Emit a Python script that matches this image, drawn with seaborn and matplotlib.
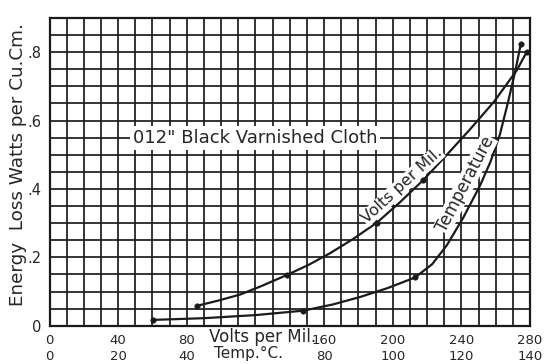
import matplotlib
matplotlib.use("Agg")
import matplotlib.pyplot as plt
import seaborn as sns
import pandas as pd
import numpy as np
from matplotlib.transforms import blended_transform_factory

# ---- data ----
# curve traces (x in "volts per mil" scale units; temperature scale = x/2)
volts_x = [85.8, 98.0, 111.0, 124.0, 138.2, 151.0, 163.5, 177.0, 190.7, 204.0,
           217.8, 231.0, 245.0, 259.0, 272.3, 278.1]
volts_y = [0.058, 0.073, 0.091, 0.117, 0.148, 0.178, 0.212, 0.254, 0.301, 0.360,
           0.426, 0.497, 0.574, 0.655, 0.747, 0.801]
temp_x = [60.5, 90.0, 120.0, 147.9, 165.0, 181.0, 197.0, 213.0, 223.0, 231.5,
          241.0, 250.9, 257.0, 262.5, 267.0, 271.3, 274.6]
temp_y = [0.017, 0.022, 0.031, 0.044, 0.062, 0.084, 0.110, 0.141, 0.180, 0.235,
          0.315, 0.410, 0.480, 0.560, 0.650, 0.742, 0.823]
# measured points (dots)
volts_pts_x = [85.8, 138.2, 190.7, 217.8, 278.1]
volts_pts_y = [0.058, 0.148, 0.301, 0.426, 0.801]
temp_pts_x = [60.5, 147.9, 213.0, 274.6]
temp_pts_y = [0.017, 0.044, 0.141, 0.823]

x_ticks = [0, 40, 80, 120, 160, 200, 240, 280]
volt_labels = ["0", "40", "80", "", "160", "200", "240", "280"]
temp_labels = ["0", "20", "40", "", "80", "100", "120", "140"]
y_ticks = [0, 0.2, 0.4, 0.6, 0.8]
y_labels = ["0", ".2", ".4", ".6", ".8"]

title_text = '012" Black Varnished Cloth'
ylabel_text = "Energy  Loss Watts per Cu.Cm."
xlabel_volts = "Volts per Mil."
xlabel_temp = "Temp.°C."

# ---- figure ----
sns.set_style("white")
plt.rcParams["font.family"] = ["DejaVu Sans"]
ink = "#1b1b1b"

fig = plt.figure(figsize=(5.48, 3.64), dpi=100)
ax = fig.add_axes([49.5 / 548, 1 - 325.7 / 364, (530 - 49.5) / 548, (325.7 - 18) / 364])

df_v = pd.DataFrame({"x": volts_x, "y": volts_y})
df_t = pd.DataFrame({"x": temp_x, "y": temp_y})
sns.lineplot(data=df_v, x="x", y="y", ax=ax, color=ink, lw=1.6, sort=False, estimator=None)
sns.lineplot(data=df_t, x="x", y="y", ax=ax, color=ink, lw=1.6, sort=False, estimator=None)
sns.scatterplot(x=volts_pts_x, y=volts_pts_y, ax=ax, color=ink, s=16, edgecolor=ink, zorder=5)
sns.scatterplot(x=temp_pts_x, y=temp_pts_y, ax=ax, color=ink, s=16, edgecolor=ink, zorder=5)

ax.set_xlim(0, 280)
ax.set_ylim(0, 0.9)
ax.set_xticks([v for v in range(0, 281, 10)], minor=True)
ax.set_yticks([i * 0.05 for i in range(19)], minor=True)
ax.grid(which="both", color=ink, lw=1.25)
ax.set_axisbelow(True)
for s in ax.spines.values():
    s.set_color(ink)
    s.set_linewidth(1.6)

ax.set_xticks(x_ticks)
ax.set_xticklabels([f"{a}\n{b}" for a, b in zip(volt_labels, temp_labels)],
                   fontsize=9.5, linespacing=1.25)
ax.set_yticks(y_ticks)
ax.set_yticklabels(y_labels, fontsize=10.5)
ax.tick_params(axis="both", which="major", length=4, width=1.3, color=ink, pad=2)
ax.tick_params(axis="both", which="minor", length=0)
ax.set_xlabel("")
ax.set_ylabel("")

trans = blended_transform_factory(ax.transData, fig.transFigure)
ax.text(124, 1 - 337 / 364, xlabel_volts, transform=trans, ha="center", va="center",
        fontsize=12)
ax.text(116, 1 - 353 / 364, xlabel_temp, transform=trans, ha="center", va="center",
        fontsize=11)

fig.text(18 / 548, 1 - 165 / 364, ylabel_text, rotation=90, ha="center", va="center",
         fontsize=13.2)

ax.text(119.8, 0.549, title_text, ha="center", va="center", fontsize=13,
        bbox=dict(facecolor="white", edgecolor="none", pad=2.0), zorder=4)


def curve_label(text, x, y, angle, gap, size):
    a = np.deg2rad(angle)
    dx, dy = -np.sin(a) * gap, np.cos(a) * gap
    ax.annotate(text, xy=(x, y), xytext=(dx, dy), textcoords="offset points",
                rotation=angle, rotation_mode="anchor", ha="center", va="bottom",
                fontsize=size, zorder=3,
                bbox=dict(facecolor="white", edgecolor="none", pad=0.3))


curve_label(xlabel_volts, 209.5, 0.388, 42.7, 2.0, 11.5)
curve_label("Temperature", 248.8, 0.398, 62.4, 2.5, 12)

fig.savefig("out.png", dpi=100)
